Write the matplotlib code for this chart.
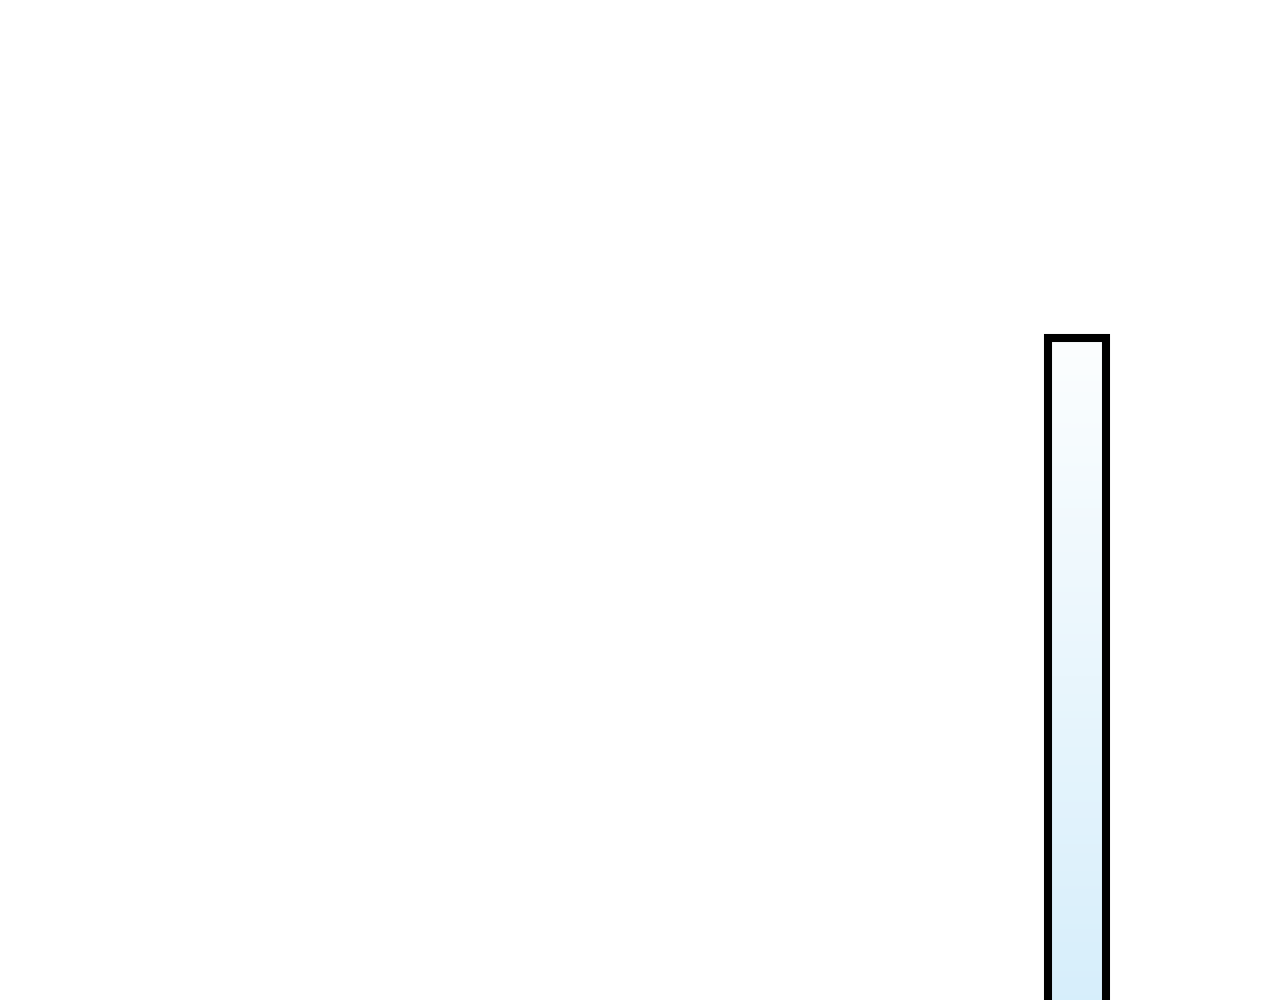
import numpy as np
import matplotlib
matplotlib.use("Agg")
import matplotlib.pyplot as plt
from matplotlib.colors import LinearSegmentedColormap

# Data
categories = ["A"]
values = [100]

top_color = "#fcfeff"
bottom_color = "#d6eefb"

fig = plt.figure(figsize=(12.8, 10.0), dpi=100)
ax = fig.add_axes([0, 0, 1, 1])
ax.set_axis_off()

bar_width = 0.8
px_per_unit = 58 / bar_width
center_px = 1077
xlim = (-center_px / px_per_unit, (1280 - center_px) / px_per_unit)
ymin = values[0] * 0.02
ymax = ymin + (values[0] - ymin) / 0.662
ylim = (ymin, ymax)

x = np.arange(len(categories))
bars = ax.bar(x, values, width=bar_width, facecolor="none",
              edgecolor="black", linewidth=5.8, zorder=3)

cmap = LinearSegmentedColormap.from_list("grad", [bottom_color, top_color])
grad = np.linspace(0, 1, 256).reshape(-1, 1)
for b in bars:
    x0, y0 = b.get_x(), b.get_y()
    w, h = b.get_width(), b.get_height()
    im = ax.imshow(grad, cmap=cmap, origin="lower", aspect="auto",
                   extent=[x0, x0 + w, y0, y0 + h], zorder=2,
                   interpolation="bicubic")
    im.set_clip_path(b)

ax.set_xlim(*xlim)
ax.set_ylim(*ylim)

fig.savefig("out.png", dpi=100, facecolor="white")
